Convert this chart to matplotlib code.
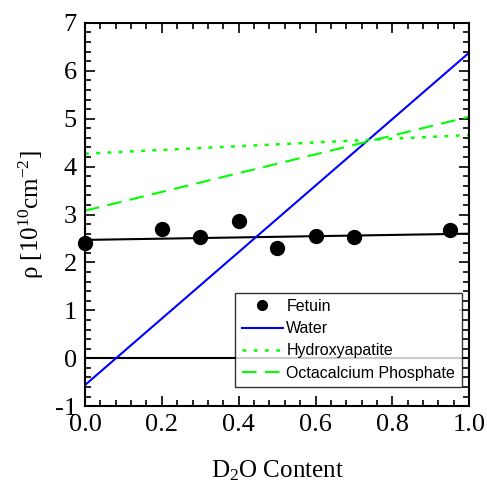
import matplotlib
matplotlib.use("Agg")
import matplotlib.pyplot as plt
from matplotlib.ticker import MultipleLocator

plt.rcParams['mathtext.fontset'] = 'custom'
plt.rcParams['mathtext.rm'] = 'Liberation Serif'
plt.rcParams['mathtext.it'] = 'Liberation Serif:italic'

# measured data
d2o = [0.0, 0.2, 0.3, 0.4, 0.5, 0.6, 0.7, 0.95]
fetuin = [2.40, 2.69, 2.53, 2.86, 2.30, 2.56, 2.54, 2.67]

# calculated SLD lines (values at 0 and 1 D2O)
x_line = [0.0, 1.0]
fetuin_fit = [2.47, 2.60]
water = [-0.56, 6.38]
hydroxyapatite = [4.27, 4.66]
octacalcium = [3.08, 5.04]
zero = [0.0, 0.0]

fig = plt.figure(figsize=(4.87, 4.87), dpi=100)
ax = fig.add_axes([0.1745, 0.166, 0.789, 0.787])

ax.plot(x_line, zero, color='black', lw=1.5)
ax.plot(x_line, fetuin_fit, color='black', lw=1.5)
ax.plot(d2o, fetuin, 'o', color='black', ms=10, label='Fetuin', clip_on=False, zorder=5)
ax.plot(x_line, water, color='#0000FF', lw=1.5, label='Water')
ax.plot(x_line, hydroxyapatite, color='#00FF00', lw=1.8, ls=(0, (1.5, 3)), label='Hydroxyapatite')
ax.plot(x_line, octacalcium, color='#00FF00', lw=1.5, ls=(0, (7, 4)), label='Octacalcium Phosphate')

ax.set_xlim(0, 1)
ax.set_ylim(-1, 7)
ax.xaxis.set_major_locator(MultipleLocator(0.2))
ax.xaxis.set_minor_locator(MultipleLocator(0.04))
ax.yaxis.set_major_locator(MultipleLocator(1))
ax.yaxis.set_minor_locator(MultipleLocator(0.2))
ax.tick_params(which='both', direction='in', top=True, right=True, width=1.2)
ax.tick_params(which='major', length=7, labelsize=19, pad=6)
ax.tick_params(which='minor', length=4)
for s in ax.spines.values():
    s.set_linewidth(1.5)

ax.set_xticklabels([f"{v:.1f}" for v in ax.get_xticks()])
ax.set_yticklabels([f"{int(v)}" for v in ax.get_yticks()])
for lab in ax.get_xticklabels() + ax.get_yticklabels():
    lab.set_family('Liberation Serif')

ax.set_xlabel(r'D$_2$O Content', family='Liberation Serif', fontsize=18, labelpad=16)
ax.set_ylabel(r'ρ [10$^{10}$cm$^{-2}$]', family='Liberation Serif', fontsize=18, labelpad=6)

leg = ax.legend(loc='lower right', bbox_to_anchor=(0.98, 0.05), frameon=True, fancybox=False,
                edgecolor='black', prop={'family': 'Liberation Sans', 'size': 11.5},
                handlelength=2.6, handletextpad=0.2, borderpad=0.4, labelspacing=0.45,
                borderaxespad=0, markerscale=0.7)
leg.get_frame().set_linewidth(1.0)

fig.savefig('out.png', dpi=100)
